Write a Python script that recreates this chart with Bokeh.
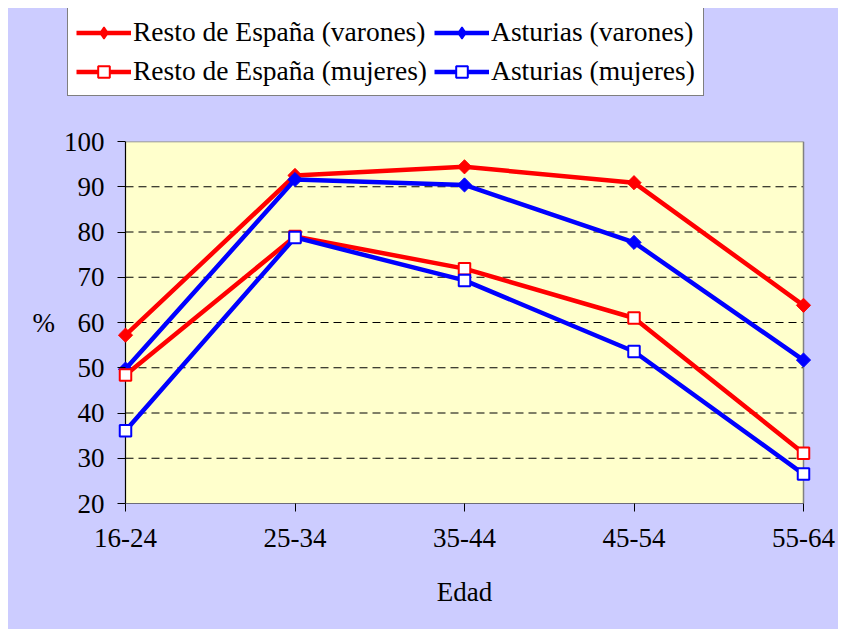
import math
from bokeh.plotting import figure
from bokeh.layouts import column
from bokeh.models import Range1d, FixedTicker, Legend, LegendItem
from bokeh.embed import file_html
from bokeh.resources import INLINE

edades = ["16-24", "25-34", "35-44", "45-54", "55-64"]
resto_varones = [57.2, 92.5, 94.4, 90.9, 63.8]
asturias_varones = [49.7, 91.6, 90.4, 77.7, 51.7]
resto_mujeres = [48.4, 79.0, 71.9, 61.0, 31.1]
asturias_mujeres = [36.1, 78.8, 69.3, 53.6, 26.5]
y_ticks = [20, 30, 40, 50, 60, 70, 80, 90, 100]

FONT = "Liberation Serif"
RED = "#FF0000"
BLUE = "#0000FF"
LAVENDER = "#CCCCFF"
YELLOW = "#FFFFCC"

xs = list(range(len(edades)))
n = len(edades) - 1
y0, y1 = y_ticks[0], y_ticks[-1]

series = [
    ("Resto de España (varones)", resto_varones, RED, "diamond"),
    ("Asturias (varones)", asturias_varones, BLUE, "diamond"),
    ("Resto de España (mujeres)", resto_mujeres, RED, "square"),
    ("Asturias (mujeres)", asturias_mujeres, BLUE, "square"),
]


def no_align(fig):
    try:
        fig.frame_align = False
    except Exception:
        pass


# ---------------- main chart ----------------
inner_w = 678          # px width of the plot area (yellow)
pad = 8                # px of extra frame each side so edge markers are not clipped
pad_u = pad * n / inner_w

p = figure(frame_width=inner_w + 2 * pad, frame_height=362, output_backend="svg", toolbar_location=None,
           x_range=Range1d(-pad_u, n + pad_u), y_range=Range1d(y0, y1),
           min_border_left=109, min_border_right=27, min_border_top=13, min_border_bottom=126)
no_align(p)
p.background_fill_color = None
p.border_fill_color = LAVENDER
p.outline_line_color = None
p.grid.visible = False

p.quad(left=[0], right=[n], bottom=[y0], top=[y1], fill_color=YELLOW, line_color=None)
grid_vals = y_ticks[1:-1]
p.segment(x0=[0] * len(grid_vals), x1=[n] * len(grid_vals), y0=grid_vals, y1=grid_vals,
          line_color="black", line_dash="8 5", line_width=1)
p.line([0, n], [y1, y1], line_color="#808080", line_width=1.5)
p.line([n, n], [y0, y1], line_color="#808080", line_width=1.5)
p.line([0, 0], [y0, y1], line_color="black", line_width=1.2)
p.line([0, n], [y0, y0], line_color="black", line_width=1.2)

for ax in (p.xaxis[0], p.yaxis[0]):
    ax.axis_line_color = None
    ax.major_tick_line_color = "black"
    ax.minor_tick_line_color = None
    ax.major_label_text_font = FONT
    ax.major_label_text_font_size = "27px"
    ax.major_label_text_color = "black"
    ax.axis_label_text_font = FONT
    ax.axis_label_text_font_size = "27px"
    ax.axis_label_text_font_style = "normal"
    ax.axis_label_text_color = "black"

p.xaxis.ticker = FixedTicker(ticks=xs)
p.xaxis.major_label_overrides = {i: e for i, e in enumerate(edades)}
p.xaxis.major_tick_in = 0
p.xaxis.major_tick_out = 8
p.xaxis.major_label_standoff = 17
p.xaxis.axis_label = "Edad"
p.xaxis.axis_label_standoff = 27

p.yaxis.ticker = FixedTicker(ticks=y_ticks)
p.yaxis.major_tick_in = pad
p.yaxis.major_tick_out = 0
p.yaxis.major_label_standoff = 13
p.yaxis.axis_label = "%"
p.yaxis.axis_label_standoff = 6
try:
    p.yaxis.axis_label_orientation = "horizontal"
except Exception:
    pass

for name, vals, col, kind in series:
    p.line(xs, vals, line_color=col, line_width=4.5)
    if kind == "diamond":
        p.scatter(xs, vals, marker="square", angle=math.pi / 4, size=10,
                  fill_color=col, line_color=col, line_width=1)
    else:
        p.scatter(xs, vals, marker="square", size=11.5,
                  fill_color="white", line_color=col, line_width=2)

# ---------------- legend strip ----------------
lg = figure(width=830, height=120, output_backend="svg", toolbar_location=None,
            x_range=Range1d(100, 101), y_range=Range1d(0, 1),
            min_border=0, x_axis_type=None, y_axis_type=None)
no_align(lg)
lg.background_fill_color = None
lg.border_fill_color = LAVENDER
lg.outline_line_color = None
lg.grid.visible = False

items = []
for name, vals, col, kind in series:
    # proxies drawn outside the visible range; only their legend glyphs show
    ln = lg.line(xs, vals, line_color=col, line_width=4.5)
    if kind == "diamond":
        mk = lg.scatter(xs, vals, marker="diamond",
                        fill_color=col, line_color=col, line_width=1.5)
    else:
        mk = lg.scatter(xs, vals, marker="square",
                        fill_color="white", line_color=col, line_width=2)
    items.append(LegendItem(label=name, renderers=[ln, mk]))

legend = Legend(items=items, location=(59, 32), orientation="horizontal", ncols=2,
                label_text_font=FONT, label_text_font_size="27.5px", label_text_color="black",
                glyph_width=55, glyph_height=29, label_standoff=2,
                spacing=7, padding=8, margin=0,
                border_line_color="black", border_line_width=1,
                background_fill_color="white", background_fill_alpha=1)
lg.add_layout(legend, "center")

layout = column(lg, p, spacing=0)
layout.margin = (8, 0, 0, 8)
try:
    layout.styles = {"background-color": LAVENDER}
except Exception:
    pass

open("out.html", "w").write(file_html(layout, INLINE))
